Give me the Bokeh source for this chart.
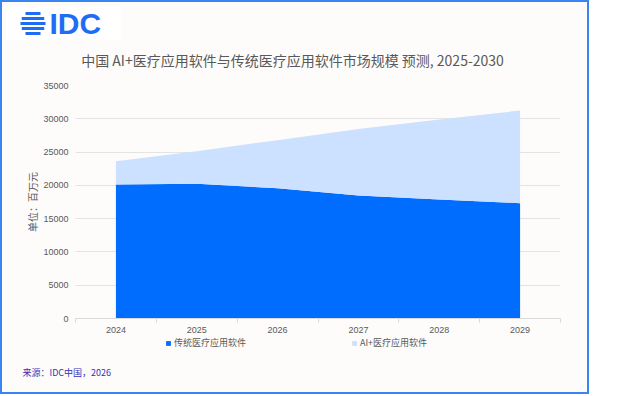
from bokeh.plotting import figure
from bokeh.layouts import column
from bokeh.models import (ColumnDataSource, Label, BoxAnnotation, Legend, LegendItem,
                          FixedTicker, Range1d)
from bokeh.embed import file_html
from bokeh.resources import INLINE

# ---- data ----
years = ["2024", "2025", "2026", "2027", "2028", "2029"]
traditional = [20130, 20230, 19570, 18480, 17880, 17330]
ai_plus = [3500, 4910, 7220, 10000, 12010, 13910]
y_ticks = [0, 5000, 10000, 15000, 20000, 25000, 30000, 35000]
series_names = ["传统医疗应用软件", "AI+医疗应用软件"]
series_colors = ["#006DFF", "#CCE0FF"]
title_text = "中国 AI+医疗应用软件与传统医疗应用软件市场规模 预测, 2025-2030"
y_label = "单位：百万元"
source_text = "来源：IDC中国，2026"

BG = "#fefcfa"
GREY = "#595959"
CJK = "Noto Sans CJK SC"
LAT = "Liberation Sans"
LOGO = "#1f6cf5"
W = 585


def no_align(f):
    try:
        f.frame_align = False
    except Exception:
        pass


def blank(h):
    f = figure(width=W, height=h, output_backend="svg", toolbar_location=None,
               x_range=Range1d(0, W), y_range=Range1d(h, 0),
               x_axis_type=None, y_axis_type=None,
               min_border=0, min_border_left=0, min_border_right=0,
               min_border_top=0, min_border_bottom=0)
    f.title.visible = False
    f.background_fill_color = BG
    f.border_fill_color = BG
    f.outline_line_color = None
    no_align(f)
    return f


# ---- header: logo + title ----
head = blank(75)
head.add_layout(BoxAnnotation(left=4, right=118, top=5, bottom=37,
                              fill_color="white", fill_alpha=1, line_alpha=0))
for cy, w in [(11, 15), (16, 22.5), (21, 25), (26, 22.5), (31, 15)]:
    head.add_layout(BoxAnnotation(left=30.5 - w / 2, right=30.5 + w / 2,
                                  top=cy - 1.6, bottom=cy + 1.6,
                                  fill_color=LOGO, fill_alpha=1, line_alpha=0))
head.add_layout(Label(x=47, y=21, text="IDC", text_font=LAT, text_font_style="bold",
                      text_font_size="30px", text_color=LOGO, text_baseline="middle"))
head.add_layout(Label(x=290, y=57, text=title_text, text_font=CJK, text_font_size="14px",
                      text_color=GREY, text_align="center", text_baseline="middle"))

# ---- chart ----
xs = list(range(len(years)))
src = ColumnDataSource(dict(x=xs, traditional=traditional, ai=ai_plus))

p = figure(width=W, height=258, output_backend="svg", toolbar_location=None,
           x_range=Range1d(-0.5, len(years) - 0.5), y_range=Range1d(0, y_ticks[-1]),
           min_border_left=73, min_border_right=27, min_border_top=8, min_border_bottom=17)
p.title.visible = False
p.background_fill_color = BG
p.border_fill_color = BG
p.outline_line_color = None
no_align(p)

rs = p.varea_stack(["traditional", "ai"], x="x", color=series_colors, source=src)

xa = p.xaxis[0]
xa.ticker = FixedTicker(ticks=xs, minor_ticks=[i - 0.5 for i in range(len(years) + 1)])
xa.major_label_overrides = {i: y for i, y in enumerate(years)}
xa.axis_line_color = "#d9d9d9"
xa.major_tick_line_color = None
xa.major_tick_out = 0
xa.major_tick_in = 0
xa.minor_tick_line_color = "#d9d9d9"
xa.minor_tick_out = 4
xa.minor_tick_in = 0
xa.major_label_standoff = 4
xa.major_label_text_font = LAT
xa.major_label_text_font_size = "9px"
xa.major_label_text_color = GREY

ya = p.yaxis[0]
ya.ticker = FixedTicker(ticks=y_ticks)
ya.axis_line_color = None
ya.major_tick_line_color = None
ya.minor_tick_line_color = None
ya.major_tick_out = 0
ya.major_tick_in = 0
ya.major_label_standoff = 7
ya.major_label_text_font = LAT
ya.major_label_text_font_size = "9px"
ya.major_label_text_color = GREY
ya.axis_label = y_label
ya.axis_label_text_font = CJK
ya.axis_label_text_font_size = "10px"
ya.axis_label_text_font_style = "normal"
ya.axis_label_text_color = GREY
ya.axis_label_standoff = 0

p.xgrid.grid_line_color = None
p.ygrid.grid_line_color = "#e4e4e4"
p.ygrid.grid_line_width = 1

# ---- footer: legend + source ----
FH = 57
foot = blank(FH)
# legend proxies: same styles as the stacked areas, data kept outside the visible range
proxy = ColumnDataSource(dict(x=[-20, -10], y1=[-20, -20], y2=[-10, -10]))
leg_rs = [foot.varea(x="x", y1="y1", y2="y2", fill_color=c, source=proxy) for c in series_colors]
leg = Legend(items=[LegendItem(label=n, renderers=[r]) for n, r in zip(series_names, leg_rs)],
             location=(163, 43), orientation="horizontal", padding=0, margin=0, spacing=105,
             glyph_width=6, glyph_height=6, label_height=6, label_standoff=3,
             label_text_font=CJK, label_text_font_size="9px", label_text_color=GREY,
             border_line_color=None, background_fill_alpha=0)
foot.add_layout(leg)
foot.add_layout(Label(x=20, y=37, text=source_text, text_font=CJK, text_font_size="9px",
                      text_color="#3333b8", text_baseline="middle"))

layout = column(head, p, foot, spacing=0,
                styles={"border": "2px solid #3a86f0", "background-color": BG})

open("out.html", "w").write(file_html(layout, INLINE))
